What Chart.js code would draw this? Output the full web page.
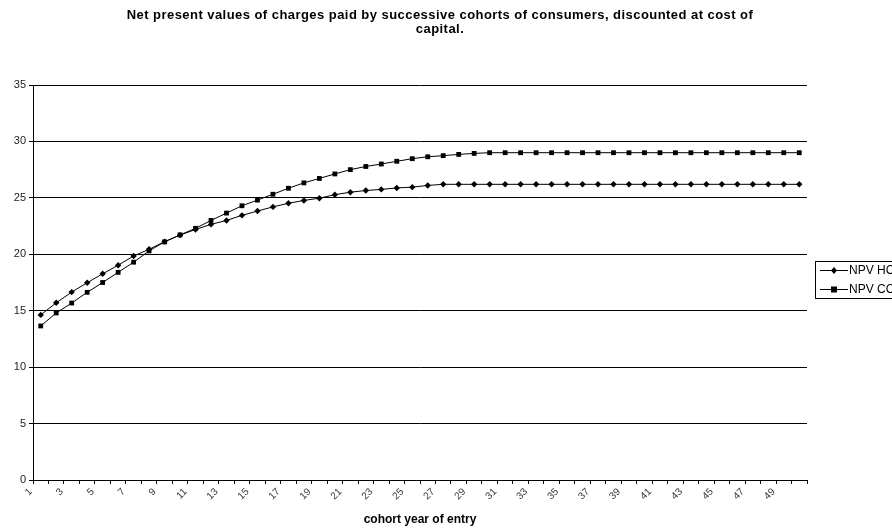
<!DOCTYPE html>
<html>
<head>
<meta charset="utf-8">
<script src="https://cdn.jsdelivr.net/npm/chart.js@4/dist/chart.umd.min.js"></script>
<style>
  html, body { margin: 0; padding: 0; background: #fff; overflow: hidden; }
  #wrap { position: relative; width: 892px; height: 529px; }
</style>
</head>
<body>
<div id="wrap"><canvas id="c" width="892" height="529"></canvas></div>
<script>
// Cohort year of entry (category axis)
const cohorts = ['1','2','3','4','5','6','7','8','9','10','11','12','13','14','15','16','17','18','19','20',
  '21','22','23','24','25','26','27','28','29','30','31','32','33','34','35','36','37','38','39','40',
  '41','42','43','44','45','46','47','48','49','50'];

// Net present value of charges, HC basis
const npvHC = [14.63, 15.70, 16.65, 17.48, 18.27, 19.03, 19.85, 20.44, 21.12, 21.70,
  22.20, 22.65, 23.00, 23.45, 23.83, 24.20, 24.52, 24.77, 24.97, 25.28,
  25.50, 25.65, 25.75, 25.88, 25.95, 26.10, 26.20, 26.20, 26.20, 26.20,
  26.20, 26.20, 26.20, 26.20, 26.20, 26.20, 26.20, 26.20, 26.20, 26.20,
  26.20, 26.20, 26.20, 26.20, 26.20, 26.20, 26.20, 26.20, 26.20, 26.20];

// Net present value of charges, CC basis
const npvCC = [13.65, 14.80, 15.68, 16.63, 17.50, 18.40, 19.30, 20.30, 21.10, 21.72,
  22.30, 23.00, 23.65, 24.30, 24.80, 25.32, 25.85, 26.33, 26.72, 27.12,
  27.50, 27.78, 28.00, 28.24, 28.47, 28.64, 28.74, 28.85, 28.94, 29.00,
  29.00, 29.00, 29.00, 29.00, 29.00, 29.00, 29.00, 29.00, 29.00, 29.00,
  29.00, 29.00, 29.00, 29.00, 29.00, 29.00, 29.00, 29.00, 29.00, 29.00];

const seriesNames = ['NPV HC', 'NPV CC'];
const titleLines = ['Net present values of charges paid by successive cohorts of consumers, discounted at cost of', 'capital.'];
const xTitle = 'cohort year of entry';

const FONT = 'Arial, "Liberation Sans", sans-serif';

// Two-line centred heading
const headingPlugin = {
  id: 'heading',
  afterDraw(chart) {
    const ctx = chart.ctx;
    ctx.save();
    ctx.fillStyle = '#000';
    ctx.font = 'bold 13px ' + FONT;
    if ('letterSpacing' in ctx) ctx.letterSpacing = '0.45px';
    ctx.textAlign = 'center';
    ctx.textBaseline = 'alphabetic';
    ctx.fillText(titleLines[0], 440, 19);
    ctx.fillText(titleLines[1], 440, 33);
    ctx.restore();
  }
};

// Boxed legend at the right edge, built from the datasets
const boxLegendPlugin = {
  id: 'boxLegend',
  afterDraw(chart) {
    const ctx = chart.ctx;
    const left = 815, top = 261, h = 37;
    ctx.save();
    ctx.strokeStyle = '#000';
    ctx.lineWidth = 1;
    ctx.strokeRect(left + 0.5, top + 0.5, 120, h);
    chart.data.datasets.forEach((ds, i) => {
      const y = top + 9 + i * 19;
      ctx.beginPath();
      ctx.moveTo(820, y + 0.5);
      ctx.lineTo(848, y + 0.5);
      ctx.stroke();
      ctx.fillStyle = '#000';
      if (ds.pointStyle === 'rect') {
        ctx.fillRect(831, y - 2.5, 6, 6);
      } else {
        ctx.beginPath();
        ctx.moveTo(834, y - 3);
        ctx.lineTo(837, y + 0.5);
        ctx.lineTo(834, y + 4);
        ctx.lineTo(831, y + 0.5);
        ctx.closePath();
        ctx.fill();
      }
      ctx.font = '12px ' + FONT;
      ctx.textAlign = 'left';
      ctx.textBaseline = 'middle';
      ctx.fillText(ds.label, 849, y + 0.5);
    });
    ctx.restore();
  }
};

new Chart(document.getElementById('c'), {
  type: 'line',
  data: {
    labels: cohorts,
    datasets: [
      {
        label: seriesNames[0],
        data: npvHC,
        borderColor: '#000',
        backgroundColor: '#000',
        borderWidth: 1,
        pointStyle: 'rectRot',
        pointRadius: 3.2,
        pointBorderWidth: 0,
        tension: 0
      },
      {
        label: seriesNames[1],
        data: npvCC,
        borderColor: '#000',
        backgroundColor: '#000',
        borderWidth: 1,
        pointStyle: 'rect',
        pointRadius: 3.4,
        pointBorderWidth: 0,
        tension: 0
      }
    ]
  },
  options: {
    responsive: false,
    animation: false,
    devicePixelRatio: 1,
    layout: { padding: { top: 85, right: 85, left: 0, bottom: 0 } },
    plugins: {
      legend: { display: false },
      title: { display: false },
      tooltip: { enabled: false }
    },
    scales: {
      x: {
        type: 'category',
        offset: true,
        grid: {
          display: true,
          offset: true,
          drawOnChartArea: false,
          drawTicks: true,
          tickLength: 4,
          color: '#000'
        },
        border: { display: true, color: '#000', width: 1 },
        ticks: {
          autoSkip: false,
          maxRotation: 45,
          minRotation: 45,
          labelOffset: -10,
          padding: 2,
          color: '#3a3a4a',
          font: { family: FONT, size: 10 },
          callback: function (value, index) {
            return index % 2 === 0 ? this.getLabelForValue(value) : '';
          }
        },
        title: {
          display: true,
          text: xTitle,
          color: '#000',
          font: { family: FONT, size: 12, weight: 'bold' },
          padding: { top: 2, bottom: 2 }
        },
        afterFit(scale) { scale.height = 49; }
      },
      y: {
        min: 0,
        max: 35,
        ticks: {
          stepSize: 5,
          color: '#222',
          padding: 3,
          font: { family: FONT, size: 11 }
        },
        grid: {
          color: '#000',
          lineWidth: 1,
          drawTicks: true,
          tickLength: 4
        },
        border: { display: true, color: '#000', width: 1 },
        afterFit(scale) { scale.width = 33; }
      }
    }
  },
  plugins: [headingPlugin, boxLegendPlugin]
});
</script>
</body>
</html>
